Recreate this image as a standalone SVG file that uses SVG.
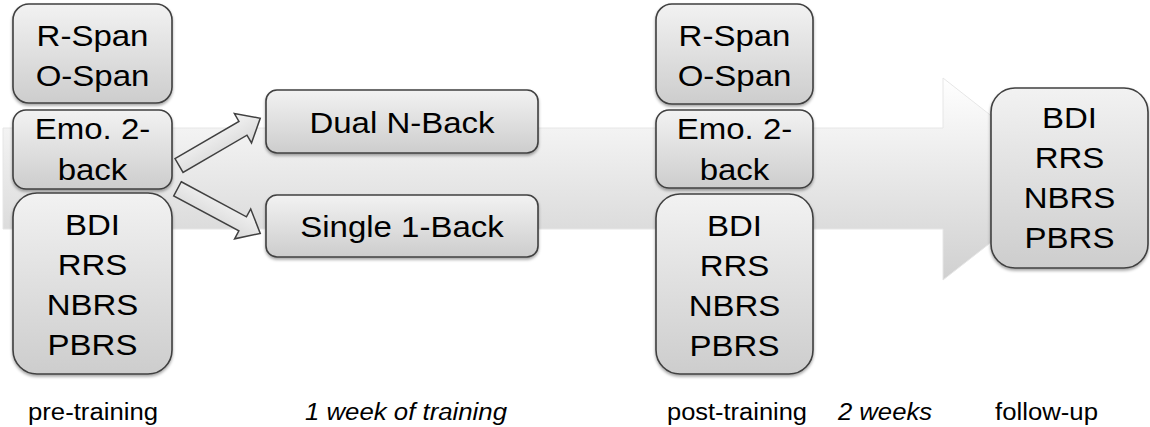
<svg xmlns="http://www.w3.org/2000/svg" width="1150" height="427" viewBox="0 0 1150 427">
<style>
.box{stroke:#404040;stroke-width:1.6;fill:url(#boxGrad);filter:url(#shadow)}
.t{font-family:"Liberation Sans",Arial,sans-serif;font-size:30px;fill:#000;text-anchor:middle}
.lbl{font-family:"Liberation Sans",Arial,sans-serif;font-size:23px;fill:#000}
.it{font-style:italic}
.sa{stroke:#404040;stroke-width:1.5;fill:url(#saGrad);stroke-linejoin:miter}
</style>
<defs>
<linearGradient id="boxGrad" x1="0" y1="0" x2="0" y2="1">
<stop offset="0" stop-color="#f2f2f2"/>
<stop offset="1" stop-color="#cdcdcd"/>
</linearGradient>
<linearGradient id="saGrad" x1="0" y1="0" x2="0" y2="1">
<stop offset="0" stop-color="#f4f4f4"/>
<stop offset="1" stop-color="#d8d8d8"/>
</linearGradient>
<linearGradient id="bigGrad" gradientUnits="userSpaceOnUse" x1="0" y1="78" x2="0" y2="280">
<stop offset="0" stop-color="#ffffff"/>
<stop offset="1" stop-color="#d0d0d0"/>
</linearGradient>
<filter id="shadow" x="-10%" y="-10%" width="120%" height="130%">
<feDropShadow dx="0" dy="2" stdDeviation="1.8" flood-color="#000" flood-opacity="0.35"/>
</filter>
</defs>

<g id="background-arrow">
<path d="M3,128 L943,128 L943,78 L1072,179 L943,280 L943,229 L3,229 Z" fill="url(#bigGrad)" stroke="#e6e6e6" stroke-width="1"/>
</g>

<g id="pre-span">
<rect class="box" x="13" y="4" width="159" height="99" rx="16"/>
<g transform="translate(92.5,0) scale(1.1,1)"><text class="t" x="0" y="46">R-Span</text><text class="t" x="0" y="86">O-Span</text></g>
</g>
<g id="pre-emo">
<rect class="box" x="13" y="110" width="159" height="79" rx="13"/>
<g transform="translate(92.5,0) scale(1.1,1)"><text class="t" x="0" y="139">Emo. 2-</text><text class="t" x="0" y="180">back</text></g>
</g>
<g id="pre-scales">
<rect class="box" x="13" y="193" width="159" height="181" rx="24"/>
<g transform="translate(92.5,0) scale(1.1,1)"><text class="t" x="0" y="235">BDI</text><text class="t" x="0" y="275">RRS</text><text class="t" x="0" y="315">NBRS</text><text class="t" x="0" y="355">PBRS</text></g>
</g>

<g id="dual">
<rect class="box" x="266" y="90" width="272" height="63" rx="11"/>
<g transform="translate(402,0) scale(1.1,1)"><text class="t" x="0" y="133">Dual N-Back</text></g>
</g>
<g id="single">
<rect class="box" x="266" y="195" width="272" height="62" rx="11"/>
<g transform="translate(402,0) scale(1.1,1)"><text class="t" x="0" y="237">Single 1-Back</text></g>
</g>

<g id="post-span">
<rect class="box" x="656" y="4" width="157" height="100" rx="16"/>
<g transform="translate(734.5,0) scale(1.1,1)"><text class="t" x="0" y="46">R-Span</text><text class="t" x="0" y="86">O-Span</text></g>
</g>
<g id="post-emo">
<rect class="box" x="656" y="110" width="157" height="78" rx="13"/>
<g transform="translate(734.5,0) scale(1.1,1)"><text class="t" x="0" y="139">Emo. 2-</text><text class="t" x="0" y="180">back</text></g>
</g>
<g id="post-scales">
<rect class="box" x="656" y="194" width="157" height="180" rx="24"/>
<g transform="translate(734.5,0) scale(1.1,1)"><text class="t" x="0" y="236">BDI</text><text class="t" x="0" y="276">RRS</text><text class="t" x="0" y="316">NBRS</text><text class="t" x="0" y="356">PBRS</text></g>
</g>

<g id="follow-up">
<rect class="box" x="991" y="88" width="157" height="180" rx="24"/>
<g transform="translate(1069.5,0) scale(1.1,1)"><text class="t" x="0" y="128">BDI</text><text class="t" x="0" y="168">RRS</text><text class="t" x="0" y="208">NBRS</text><text class="t" x="0" y="248">PBRS</text></g>
</g>

<g id="connectors">
<path class="sa" transform="translate(179,165.5) rotate(-30.2)" d="M0,-8 L74,-8 L74,-17 L94,0 L74,17 L74,8 L0,8 Z"/>
<path class="sa" transform="translate(177.5,188.8) rotate(28.3)" d="M0,-8 L74,-8 L74,-17 L94,0 L74,17 L74,8 L0,8 Z"/>
</g>

<g id="labels">
<text class="lbl" x="28" y="420" textLength="130" lengthAdjust="spacingAndGlyphs">pre-training</text>
<text class="lbl it" x="305" y="420" textLength="202" lengthAdjust="spacingAndGlyphs">1 week of training</text>
<text class="lbl" x="667" y="420" textLength="140" lengthAdjust="spacingAndGlyphs">post-training</text>
<text class="lbl it" x="838" y="420" textLength="94" lengthAdjust="spacingAndGlyphs">2 weeks</text>
<text class="lbl" x="995" y="420" textLength="103" lengthAdjust="spacingAndGlyphs">follow-up</text>
</g>
</svg>
